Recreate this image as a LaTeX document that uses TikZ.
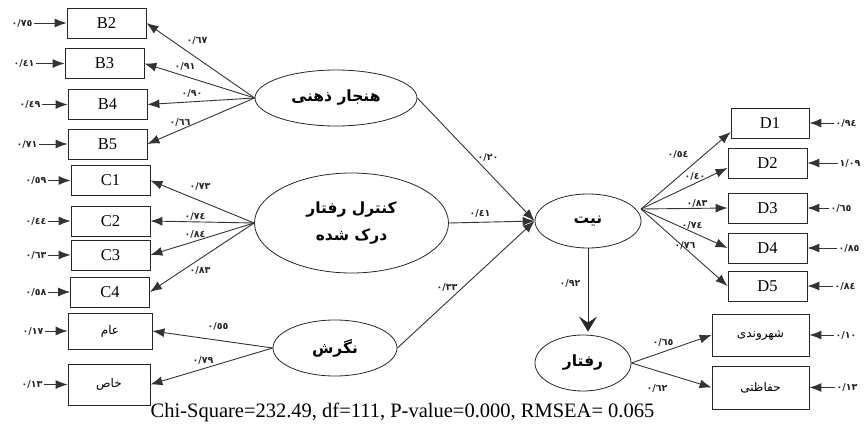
\documentclass[tikz,border=0pt]{standalone}
\usepackage{fontspec}
\setmainfont{Liberation Serif}
\newfontfamily\fa[Script=Arabic]{DejaVu Sans}
\TeXXeTstate=1
\usetikzlibrary{shapes.geometric,arrows.meta,calc}
\begin{document}
\begin{tikzpicture}[x=1pt,y=-1pt,
  box/.style={draw=black!85, line width=0.8pt, minimum width=79pt, minimum height=30pt, inner sep=0pt, font=\fontsize{16.5}{16.5}\selectfont},
  fbox/.style={box, minimum width=84pt, font=\fa\fontsize{12}{12}\selectfont},
  lat/.style={draw=black!85, ellipse, line width=0.8pt, inner sep=0pt, font=\fa\bfseries\fontsize{15.5}{18}\selectfont},
  arr/.style={draw=black!80, line width=0.9pt, -{Latex[length=12pt,width=9pt]}},
  varr/.style={draw=black!85, line width=1pt, -{Stealth[length=15pt,width=18pt,inset=6pt]}},
  num/.style={font=\fa\bfseries\fontsize{9.5}{9.5}\selectfont, inner sep=1.5pt, text=black!85}
]
\useasboundingbox (0,0) rectangle (864,430);

% indicator boxes left
\node[box] (B2) at (106.5,23) {B2};
\node[box] (B3) at (104.5,63.5) {B3};
\node[box] (B4) at (107.5,104.5) {B4};
\node[box] (B5) at (107.5,144) {B5};
\node[box] (C1) at (110.5,180.5) {C1};
\node[box] (C2) at (110.5,221) {C2};
\node[box] (C3) at (110.5,255) {C3};
\node[box] (C4) at (110,292) {C4};
\node[fbox, minimum height=36pt] (G1) at (110,331) {\beginR عام\endR};
\node[fbox, minimum width=82pt, minimum height=41pt] (G2) at (109,384.5) {\beginR خاص\endR};

% indicator boxes right
\node[box, minimum width=78pt] (D1) at (770,123) {D1};
\node[box] (D2) at (767.5,163) {D2};
\node[box] (D3) at (767.5,208) {D3};
\node[box] (D4) at (767.5,248) {D4};
\node[box] (D5) at (767.5,286) {D5};
\node[fbox, minimum width=97pt, minimum height=42pt] (R1) at (760.5,335) {\beginR شهروندی\endR};
\node[fbox, minimum width=97pt, minimum height=43pt] (R2) at (760.5,387.5) {\beginR حفاظتی\endR};

% latent variables
\node[lat, minimum width=162pt, minimum height=56pt] (SN) at (336,98) {\beginR هنجار ذهنی\endR};
\node[lat, minimum width=194pt, minimum height=100pt, align=center] (PBC) at (351.5,223) {\beginR کنترل رفتار\endR\\[9pt]\beginR درک شده\endR};
\node[lat, minimum width=124pt, minimum height=56pt] (ATT) at (335,348) {\beginR نگرش\endR};
\node[lat, minimum width=106pt, minimum height=54pt] (INT) at (588,221) {\beginR نیت\endR};
\node[lat, minimum width=96pt, minimum height=56pt] (BEH) at (583,363) {\beginR رفتار\endR};

% loadings
\foreach \b in {B2,B3,B4,B5} \draw[arr] (SN.west) -- (\b.east);
\foreach \c in {C1,C2,C3,C4} \draw[arr] (PBC.west) -- (\c.east);
\draw[arr] (ATT.west) -- (G1.east);
\draw[arr] (ATT.west) -- (G2.east);
\node[num] at (197,40) {٠/٦٧};
\node[num] at (185,66) {٠/٩١};
\node[num] at (192,93) {٠/٩٠};
\node[num] at (180,122) {٠/٦٦};
\node[num] at (200,186) {٠/٧٣};
\node[num] at (195,216) {٠/٧٤};
\node[num] at (195,234) {٠/٨٤};
\node[num] at (200,270) {٠/٨٣};
\node[num] at (218,326) {٠/٥٥};
\node[num] at (203,360) {٠/٧٩};

% structural paths
\draw[arr] (SN.east) -- (INT.west);
\draw[arr] (PBC.east) -- (INT.west);
\draw[arr] (ATT.east) -- (INT.west);
\node[num] at (488,157) {٠/٢٠};
\node[num] at (480,213) {٠/٤١};
\node[num] at (447,287) {٠/٣٣};

\coordinate (dsrc) at (641,209);
\draw[arr] (dsrc) -- ($(D1.west)+(0,9)$);
\draw[arr] (dsrc) -- ($(D2.west)+(0,5)$);
\draw[arr] (dsrc) -- (D3.west);
\draw[arr] (dsrc) -- (D4.west);
\draw[arr] (dsrc) -- (D5.west);
\node[num] at (678,154) {٠/٥٤};
\node[num] at (695,176) {٠/٤٠};
\node[num] at (697,203) {٠/٨٣};
\node[num] at (692,225) {٠/٧٤};
\node[num] at (685,245) {٠/٧٦};

\draw[varr] (INT.south) -- ($(INT.south |- BEH.north)+(0,-3)$);
\node[num] at (570,283) {٠/٩٢};

\draw[arr] (BEH.east) -- (R1.west);
\draw[arr] (BEH.east) -- (R2.west);
\node[num] at (663,342) {٠/٦٥};
\node[num] at (657,388) {٠/٦٢};

% error terms left
\node[num] (eB2) at (22,23) {٠/٧٥};
\node[num] (eB3) at (24,63.5) {٠/٤١};
\node[num] (eB4) at (30,104.5) {٠/٤٩};
\node[num] (eB5) at (27,144) {٠/٧١};
\node[num] (eC1) at (36,180.5) {٠/٥٩};
\node[num] (eC2) at (36,221) {٠/٤٤};
\node[num] (eC3) at (36,255) {٠/٦٣};
\node[num] (eC4) at (36,292) {٠/٥٨};
\node[num] (eG1) at (33,331) {٠/١٧};
\node[num] (eG2) at (32,384.5) {٠/١٣};
\foreach \e/\t in {eB2/B2,eB3/B3,eB4/B4,eB5/B5,eC1/C1,eC2/C2,eC3/C3,eC4/C4,eG1/G1,eG2/G2}
  \draw[arr] (\e.east) -- (\t.west);

% error terms right
\node[num] (eD1) at (846,123) {٠/٩٤};
\node[num] (eD2) at (850,163) {١/٠٩};
\node[num] (eD3) at (841,208) {٠/٦٥};
\node[num] (eD4) at (849,248) {٠/٨٥};
\node[num] (eD5) at (845,286) {٠/٨٤};
\node[num] (eR1) at (846,335) {٠/١٠};
\node[num] (eR2) at (847,387.5) {٠/١٣};
\foreach \e/\t in {eD1/D1,eD2/D2,eD3/D3,eD4/D4,eD5/D5,eR1/R1,eR2/R2}
  \draw[arr] (\e.west) -- (\t.east);

% fit indices
\node[anchor=base, inner sep=0pt, font=\fontsize{20.5}{20.5}\selectfont] (fit) at (402.5,417) {Chi-Square=232.49, df=111, P-value=0.000, RMSEA= 0.065};
\end{tikzpicture}
\end{document}
